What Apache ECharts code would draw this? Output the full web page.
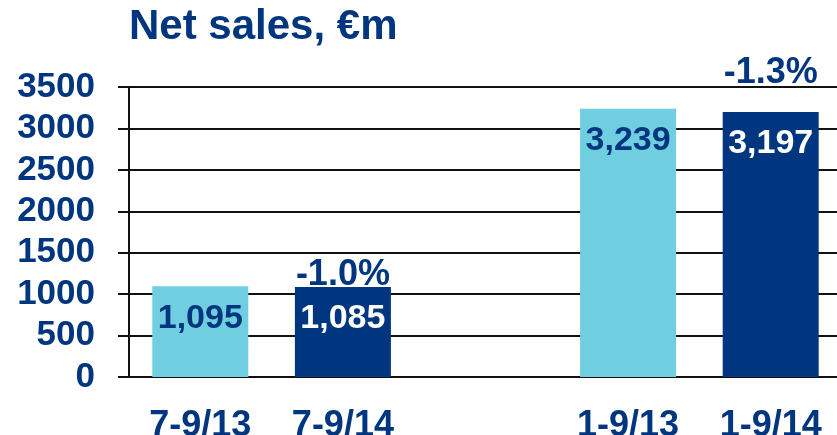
<!DOCTYPE html>
<html>
<head>
<meta charset="utf-8">
<script src="https://cdn.jsdelivr.net/npm/echarts@6/dist/echarts.min.js"></script>
<style>
  html, body { margin: 0; padding: 0; background: #fff; }
  #chart { width: 837px; height: 435px; }
</style>
</head>
<body>
<div id="chart"></div>
<script>
const periods = ["7-9/13", "7-9/14", "", "1-9/13", "1-9/14"]
const netSales = [1095, 1085, null, 3239, 3197]
const changeLabels = ["", "-1.0%", "", "", "-1.3%"]
const yTicks = [0, 500, 1000, 1500, 2000, 2500, 3000, 3500]

const navy = "#00357f"
const lightBlue = "#6fcfe1"
const font = "'Liberation Sans', Arial, sans-serif"
// how far each change label sits above its bar (style only)
const changeLift = { 1: -6, 4: 21 }

const isCurrent = (i) => periods[i].endsWith("14")

const chart = echarts.init(document.getElementById("chart"))
chart.setOption({
  animation: false,
  textStyle: { fontFamily: font },
  title: {
    text: "Net sales, €m",
    left: 124,
    top: 1,
    textStyle: { color: navy, fontSize: 42, fontWeight: "bold", fontFamily: font },
  },
  grid: { left: 129, top: 87, width: 713, height: 290, outerBoundsMode: "none", containLabel: false },
  xAxis: {
    type: "category",
    data: periods,
    axisLine: { show: true, lineStyle: { color: "#111", width: 2 } },
    axisTick: { show: false },
    axisLabel: { color: navy, fontSize: 36, fontWeight: "bold", margin: 31 },
  },
  yAxis: {
    type: "value",
    min: yTicks[0],
    max: yTicks[yTicks.length - 1],
    interval: yTicks[1] - yTicks[0],
    axisLine: { show: true, lineStyle: { color: "#111", width: 2 } },
    axisTick: { show: true, length: 11, lineStyle: { color: "#111", width: 2 } },
    splitLine: { lineStyle: { color: "#111", width: 2 } },
    axisLabel: {
      color: navy,
      fontSize: 35,
      fontWeight: "bold",
      margin: 34,
      formatter: (v) => String(v),
    },
  },
  series: [
    {
      type: "bar",
      barWidth: 96,
      data: netSales.map((v, i) => ({
        value: v,
        itemStyle: { color: isCurrent(i) ? navy : lightBlue },
        label: { color: isCurrent(i) ? "#fff" : navy },
      })),
      label: {
        show: true,
        position: "insideTop",
        distance: 15,
        fontSize: 34,
        fontWeight: "bold",
        formatter: (p) => p.value.toLocaleString("en-US"),
      },
    },
    {
      type: "bar",
      barWidth: 96,
      barGap: "-100%",
      silent: true,
      itemStyle: { color: "transparent" },
      data: netSales.map((v, i) => ({
        value: v,
        label: { distance: changeLift[i] ?? 0 },
      })),
      label: {
        show: true,
        position: "top",
        color: navy,
        fontSize: 36,
        fontWeight: "bold",
        formatter: (p) => changeLabels[p.dataIndex],
      },
    },
  ],
})
</script>
</body>
</html>
